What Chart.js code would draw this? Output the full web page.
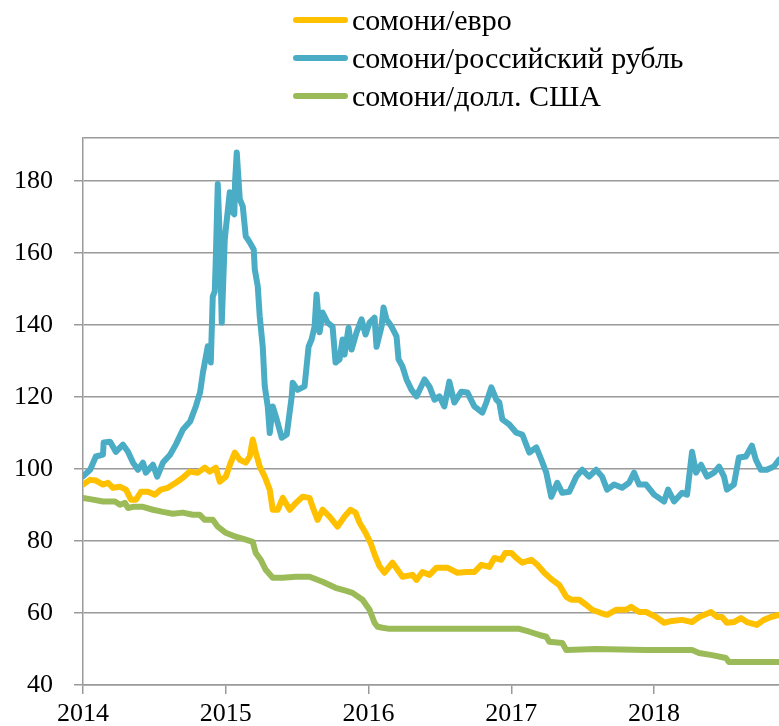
<!DOCTYPE html>
<html>
<head>
<meta charset="utf-8">
<script src="https://cdn.jsdelivr.net/npm/chart.js@4.4.1/dist/chart.umd.min.js"></script>
<style>
  body { margin: 0; background: #fff; }
  #wrap { position: relative; width: 779px; height: 726px; }
  #legend { position: absolute; left: 293px; top: 1px; font-family: 'Liberation Serif', serif; font-size: 30px; color: #000; }
  .row { height: 38px; display: flex; align-items: center; white-space: nowrap; }
  .swatch { width: 55px; height: 6px; border-radius: 3px; margin-right: 4px; }
</style>
</head>
<body>
<div id="wrap">
  <canvas id="myChart" width="779" height="726"></canvas>
  <div id="legend"></div>
</div>
<script>
// series: [year, value]
const euroSeries = [
  [2014.00, 95.7], [2014.049, 97], [2014.091, 96.8], [2014.14, 95.7], [2014.175, 96.2], [2014.21, 94.8],
  [2014.259, 95.1], [2014.301, 94.3], [2014.336, 91.5], [2014.371, 91.5], [2014.406, 93.7], [2014.455, 93.7],
  [2014.503, 92.9], [2014.545, 94.3], [2014.594, 94.8], [2014.65, 96.2], [2014.699, 97.6], [2014.748, 99.3],
  [2014.804, 99], [2014.853, 100.4], [2014.888, 99.3], [2014.93, 100.4], [2014.958, 96.5], [2015.00, 97.9],
  [2015.035, 101.8], [2015.063, 104.6], [2015.098, 102.6], [2015.14, 101.8], [2015.168, 103.5], [2015.189, 108.2],
  [2015.21, 104.6], [2015.238, 100.7], [2015.273, 97.9], [2015.308, 94.3], [2015.329, 88.7], [2015.364, 88.7],
  [2015.399, 92], [2015.448, 88.7], [2015.49, 90.6], [2015.538, 92.3], [2015.587, 92], [2015.608, 89.5],
  [2015.643, 85.9], [2015.678, 88.7], [2015.727, 86.8], [2015.783, 84], [2015.832, 86.8], [2015.874, 88.7],
  [2015.909, 87.9], [2015.937, 85.1], [2015.979, 82.3], [2016.014, 79.5], [2016.049, 75.6], [2016.077, 73],
  [2016.112, 71.2], [2016.168, 74], [2016.238, 70.1], [2016.308, 70.6], [2016.336, 69.2], [2016.378, 71.4],
  [2016.427, 70.6], [2016.476, 72.6], [2016.552, 72.6], [2016.622, 71.2], [2016.685, 71.4], [2016.741, 71.4],
  [2016.79, 73.4], [2016.846, 72.8], [2016.881, 75.3], [2016.93, 74.8], [2016.958, 76.7], [2017.00, 76.7],
  [2017.035, 75.3], [2017.077, 74], [2017.14, 74.8], [2017.182, 73.4], [2017.231, 71.2], [2017.287, 69.2],
  [2017.336, 67.8], [2017.385, 64.5], [2017.42, 63.7], [2017.476, 63.7], [2017.524, 62.3], [2017.566, 60.9],
  [2017.629, 60], [2017.671, 59.5], [2017.734, 60.9], [2017.804, 60.9], [2017.839, 61.7], [2017.895, 60.3],
  [2017.944, 60.3], [2018.014, 58.9], [2018.07, 57.3], [2018.126, 57.8], [2018.196, 58.1], [2018.266, 57.5],
  [2018.315, 58.9], [2018.399, 60.3], [2018.441, 58.9], [2018.476, 58.9], [2018.51, 57.3], [2018.559, 57.5],
  [2018.608, 58.6], [2018.65, 57.5], [2018.72, 56.7], [2018.769, 58.1], [2018.818, 58.9], [2018.875, 59.5]
];

const rubleSeries = [
  [2014.00, 98], [2014.05, 99.8], [2014.09, 103.5], [2014.14, 104], [2014.145, 107.4], [2014.19, 107.6],
  [2014.23, 104.8], [2014.28, 106.8], [2014.315, 104.8], [2014.35, 101.8], [2014.385, 99.8], [2014.42, 101.8],
  [2014.44, 99], [2014.49, 101.2], [2014.52, 97.9], [2014.56, 101.8], [2014.61, 104], [2014.65, 106.8],
  [2014.70, 111], [2014.75, 113.2], [2014.79, 117.4], [2014.82, 121.3], [2014.84, 126.8], [2014.874, 134.1],
  [2014.895, 129.6], [2014.909, 148], [2014.923, 149.4], [2014.93, 158.3], [2014.944, 179.2], [2014.958, 163.8],
  [2014.972, 140.7], [2014.993, 163.8], [2015.00, 166.6], [2015.028, 176.9], [2015.042, 171.6], [2015.06, 170.8],
  [2015.065, 179.7], [2015.077, 188], [2015.098, 175], [2015.119, 173], [2015.14, 164.7], [2015.168, 163],
  [2015.196, 161], [2015.203, 155.5], [2015.224, 150.8], [2015.238, 142.4], [2015.259, 134], [2015.273, 123],
  [2015.294, 117.4], [2015.308, 110], [2015.329, 117.4], [2015.357, 113.8], [2015.392, 108.7], [2015.427, 109.6],
  [2015.462, 120.2], [2015.469, 124], [2015.503, 122], [2015.552, 123], [2015.566, 128.5], [2015.58, 134],
  [2015.601, 136], [2015.622, 139.6], [2015.636, 148.5], [2015.657, 138], [2015.678, 143.5], [2015.713, 140.7],
  [2015.748, 139.6], [2015.769, 129.6], [2015.797, 130.5], [2015.818, 136], [2015.832, 131.8], [2015.86, 139.3],
  [2015.881, 133.2], [2015.916, 138], [2015.951, 141.6], [2015.979, 137.4], [2016.007, 140.7], [2016.042, 142.1],
  [2016.056, 134], [2016.091, 139.6], [2016.105, 144.9], [2016.126, 141.6], [2016.161, 139.6], [2016.196, 136.9],
  [2016.21, 130.5], [2016.238, 128.5], [2016.266, 124.9], [2016.301, 122], [2016.336, 120.2], [2016.357, 122],
  [2016.392, 124.9], [2016.427, 122.9], [2016.462, 119.3], [2016.497, 120.2], [2016.531, 117.4], [2016.566, 124.3],
  [2016.601, 118.5], [2016.65, 121.5], [2016.692, 121.3], [2016.741, 117.4], [2016.797, 115.7], [2016.825, 118.5],
  [2016.86, 122.7], [2016.895, 119.3], [2016.916, 118.5], [2016.937, 113.8], [2016.986, 112.4], [2017.035, 110.1],
  [2017.077, 109.6], [2017.126, 104.6], [2017.175, 106], [2017.21, 102.6], [2017.245, 99], [2017.28, 92.3],
  [2017.322, 96.2], [2017.357, 93.4], [2017.406, 93.7], [2017.455, 97.9], [2017.497, 99.8], [2017.545, 97.9],
  [2017.594, 99.8], [2017.636, 97.9], [2017.671, 94.3], [2017.72, 95.7], [2017.776, 94.8], [2017.825, 96.2],
  [2017.86, 99], [2017.895, 95.7], [2017.944, 95.7], [2018.00, 92.9], [2018.07, 91], [2018.098, 94.3],
  [2018.14, 91], [2018.196, 93.4], [2018.231, 92.9], [2018.266, 104.8], [2018.294, 99], [2018.329, 101.2],
  [2018.371, 97.9], [2018.42, 99], [2018.455, 100.7], [2018.49, 97.9], [2018.51, 94.3], [2018.559, 95.7],
  [2018.594, 103.2], [2018.643, 103.5], [2018.685, 106.5], [2018.713, 102.6], [2018.748, 99.8], [2018.79, 99.8],
  [2018.839, 100.7], [2018.875, 102.6]
];

const dollarSeries = [
  [2014.00, 92], [2014.07, 91.5], [2014.14, 91], [2014.224, 91], [2014.259, 90.1], [2014.294, 90.6],
  [2014.315, 89.2], [2014.35, 89.5], [2014.42, 89.5], [2014.49, 88.7], [2014.559, 88.1], [2014.629, 87.6],
  [2014.699, 87.9], [2014.769, 87.3], [2014.818, 87.3], [2014.853, 85.9], [2014.909, 85.9], [2014.944, 84],
  [2015.00, 82.3], [2015.07, 81.2], [2015.14, 80.4], [2015.189, 79.8], [2015.21, 76.7], [2015.245, 74.8],
  [2015.28, 72], [2015.329, 69.8], [2015.399, 69.8], [2015.49, 70.1], [2015.587, 70.1], [2015.678, 68.7],
  [2015.769, 67], [2015.839, 66.2], [2015.888, 65.6], [2015.958, 63.7], [2016.007, 60.9], [2016.042, 57.3],
  [2016.063, 56.2], [2016.098, 55.9], [2016.147, 55.6], [2016.427, 55.6], [2016.776, 55.6], [2017.056, 55.6],
  [2017.126, 54.8], [2017.196, 53.9], [2017.245, 53.4], [2017.266, 52], [2017.357, 51.7], [2017.385, 49.7],
  [2017.594, 50], [2017.944, 49.7], [2018.266, 49.7], [2018.315, 48.9], [2018.406, 48.3], [2018.503, 47.5],
  [2018.524, 46.4], [2018.875, 46.4]
];

const seriesLabels = ['сомони/евро', 'сомони/российский рубль', 'сомони/долл. США'];
const seriesColors = ['#FFC000', '#4BACC6', '#9BBB59'];
const xTicks = [2014, 2015, 2016, 2017, 2018];
const yTicks = [40, 60, 80, 100, 120, 140, 160, 180];
const yTop = 192;

const tickFont = { family: 'Liberation Serif', size: 26 };
const gridColor = '#9a9a9a';

function toPoints(series) {
  return series.map(function(p) { return { x: p[0], y: p[1] } })
}

const ctx = document.getElementById('myChart').getContext('2d');
const myChart = new Chart(ctx, {
  type: 'line',
  data: {
    datasets: [euroSeries, rubleSeries, dollarSeries].map(function(s, i) {
      return {
        label: seriesLabels[i],
        data: toPoints(s),
        borderColor: seriesColors[i],
        backgroundColor: seriesColors[i],
        borderWidth: 6,
        borderCapStyle: 'round',
        borderJoinStyle: 'round',
        pointRadius: 0,
        tension: 0
      }
    })
  },
  options: {
    responsive: false,
    animation: false,
    layout: { padding: { top: 138, right: 0, left: 0, bottom: 0 } },
    plugins: { legend: { display: false }, tooltip: { enabled: false } },
    scales: {
      x: {
        type: 'linear',
        min: 2014,
        max: 2018.875,
        afterBuildTicks: function(scale) { scale.ticks = xTicks.map(function(v) { return { value: v } }) },
        afterFit: function(scale) { scale.height = 41 },
        ticks: { font: tickFont, color: '#000', padding: 5, maxRotation: 0, autoSkip: false,
                 callback: function(v) { return String(v) } },
        grid: { drawOnChartArea: false, color: gridColor, lineWidth: 1.5, tickLength: 9 },
        border: { color: gridColor, width: 1.5 }
      },
      y: {
        min: 40,
        max: yTop,
        afterBuildTicks: function(scale) { scale.ticks = yTicks.concat([yTop]).map(function(v) { return { value: v } }) },
        afterFit: function(scale) { scale.width = 83 },
        ticks: { font: tickFont, color: '#000', padding: 21,
                 callback: function(v) { return v === yTop ? '' : String(v) } },
        grid: { color: gridColor, lineWidth: 1.5, tickLength: 9,
                tickColor: function(c) { return c.tick && c.tick.value === yTop ? 'rgba(0,0,0,0)' : gridColor } },
        border: { color: gridColor, width: 1.5 }
      }
    }
  }
});

// legend rows
const legend = document.getElementById('legend');
myChart.data.datasets.forEach(function(ds) {
  const row = document.createElement('div');
  row.className = 'row';
  row.innerHTML = '<span class="swatch" style="background:' + ds.borderColor + '"></span><span>' + ds.label + '</span>';
  legend.appendChild(row);
});
</script>
</body>
</html>
